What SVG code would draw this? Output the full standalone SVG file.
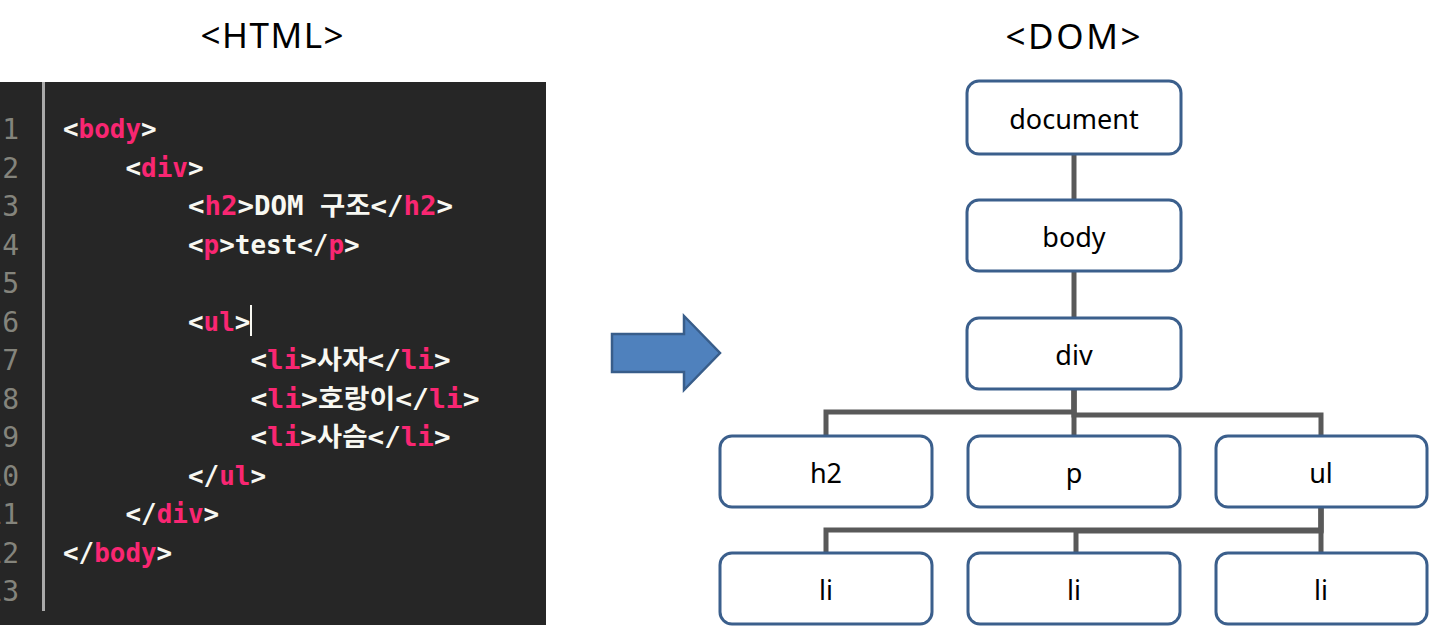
<svg xmlns="http://www.w3.org/2000/svg" width="1430" height="627" viewBox="0 0 1430 627">
<style>
.title{font-family:"Noto Sans","Noto Sans CJK KR",sans-serif;font-size:35px;fill:#000;text-anchor:middle}
.code{font-family:"DejaVu Sans Mono","Noto Sans CJK KR",monospace;font-size:26px;font-weight:bold;fill:#f8f8f2}
.tag{fill:#f92672}
.ln{font-family:"DejaVu Sans Mono",monospace;font-size:28px;fill:#84847c;text-anchor:end}
.box{fill:#fff;stroke:#3b5f8c;stroke-width:3}
.lbl{font-family:"Noto Sans","Noto Sans CJK KR",sans-serif;font-size:27px;fill:#000;text-anchor:middle}
.conn{fill:none;stroke:#595959;stroke-width:5;stroke-linejoin:miter}
</style>
<rect width="1430" height="627" fill="#fff"/>
<text class="title" x="272" y="48" textLength="143">&lt;HTML&gt;</text>
<text class="title" x="1073" y="49" textLength="135">&lt;DOM&gt;</text>

<g id="code-panel">
<rect x="0" y="82" width="546" height="543" fill="#262626"/>
<rect x="42" y="82" width="3" height="529" fill="#a9a9a9"/>
<g id="line-numbers">
<text class="ln" x="19" y="139">1</text>
<text class="ln" x="19" y="177.5">2</text>
<text class="ln" x="19" y="216">3</text>
<text class="ln" x="19" y="254.5">4</text>
<text class="ln" x="19" y="293">5</text>
<text class="ln" x="19" y="331.5">6</text>
<text class="ln" x="19" y="370">7</text>
<text class="ln" x="19" y="408.5">8</text>
<text class="ln" x="19" y="447">9</text>
<text class="ln" x="19" y="485.5">10</text>
<text class="ln" x="19" y="524">11</text>
<text class="ln" x="19" y="562.5">12</text>
<text class="ln" x="19" y="601">13</text>
</g>
<text class="code" x="63" y="138" textLength="93.6" lengthAdjust="spacingAndGlyphs">&lt;<tspan class="tag">body</tspan>&gt;</text>
<text class="code" x="125.5" y="176.5" textLength="78" lengthAdjust="spacingAndGlyphs">&lt;<tspan class="tag">div</tspan>&gt;</text>
<text class="code" x="188" y="215" textLength="265" lengthAdjust="spacingAndGlyphs">&lt;<tspan class="tag">h2</tspan>&gt;DOM 구조&lt;/<tspan class="tag">h2</tspan>&gt;</text>
<text class="code" x="188" y="253.5" textLength="171.6" lengthAdjust="spacingAndGlyphs">&lt;<tspan class="tag">p</tspan>&gt;test&lt;/<tspan class="tag">p</tspan>&gt;</text>
<text class="code" x="188" y="330.5" textLength="62.4" lengthAdjust="spacingAndGlyphs">&lt;<tspan class="tag">ul</tspan>&gt;</text>
<line x1="251" y1="305" x2="251" y2="336" stroke="#f8f8f2" stroke-width="2"/>
<text class="code" x="250.5" y="369" textLength="200" lengthAdjust="spacingAndGlyphs">&lt;<tspan class="tag">li</tspan>&gt;사자&lt;/<tspan class="tag">li</tspan>&gt;</text>
<text class="code" x="250.5" y="407.5" textLength="229" lengthAdjust="spacingAndGlyphs">&lt;<tspan class="tag">li</tspan>&gt;호랑이&lt;/<tspan class="tag">li</tspan>&gt;</text>
<text class="code" x="250.5" y="446" textLength="200" lengthAdjust="spacingAndGlyphs">&lt;<tspan class="tag">li</tspan>&gt;사슴&lt;/<tspan class="tag">li</tspan>&gt;</text>
<text class="code" x="188" y="484.5" textLength="78" lengthAdjust="spacingAndGlyphs">&lt;/<tspan class="tag">ul</tspan>&gt;</text>
<text class="code" x="125.5" y="523" textLength="93.6" lengthAdjust="spacingAndGlyphs">&lt;/<tspan class="tag">div</tspan>&gt;</text>
<text class="code" x="63" y="561.5" textLength="109.2" lengthAdjust="spacingAndGlyphs">&lt;/<tspan class="tag">body</tspan>&gt;</text>
</g>

<g id="arrow">
<polygon points="612,334 684,334 684,316 720,353 684,390 684,372 612,372" fill="#4f81bd" stroke="#385d8a" stroke-width="2.5" stroke-linejoin="miter"/>
</g>

<g id="connectors">
<line class="conn" x1="1074" y1="154" x2="1074" y2="200"/>
<line class="conn" x1="1074" y1="271" x2="1074" y2="318"/>
<polyline class="conn" points="1074,389 1074,412 826,412 826,436"/>
<polyline class="conn" points="1074,389 1074,415 1321,415 1321,436"/>
<line class="conn" x1="1074" y1="389" x2="1074" y2="436"/>
<polyline class="conn" points="1321,507 1321,530 826,530 826,553"/>
<polyline class="conn" points="1321,507 1321,531 1076,531 1076,553"/>
<line class="conn" x1="1321" y1="507" x2="1321" y2="553"/>
</g>

<g id="node-document"><rect class="box" x="967" y="81" width="214" height="73" rx="12"/><text class="lbl" x="1074" y="129">document</text></g>
<g id="node-body"><rect class="box" x="967" y="200" width="214" height="71" rx="12"/><text class="lbl" x="1074" y="247">body</text></g>
<g id="node-div"><rect class="box" x="967" y="318" width="214" height="71" rx="12"/><text class="lbl" x="1074" y="365">div</text></g>
<g id="node-h2"><rect class="box" x="720" y="436" width="212" height="71" rx="12"/><text class="lbl" x="826" y="483">h2</text></g>
<g id="node-p"><rect class="box" x="968" y="436" width="212" height="71" rx="12"/><text class="lbl" x="1074" y="483">p</text></g>
<g id="node-ul"><rect class="box" x="1216" y="436" width="211" height="71" rx="12"/><text class="lbl" x="1321" y="483">ul</text></g>
<g id="node-li1"><rect class="box" x="720" y="553" width="212" height="71" rx="12"/><text class="lbl" x="826" y="600">li</text></g>
<g id="node-li2"><rect class="box" x="968" y="553" width="212" height="71" rx="12"/><text class="lbl" x="1074" y="600">li</text></g>
<g id="node-li3"><rect class="box" x="1216" y="553" width="211" height="71" rx="12"/><text class="lbl" x="1321" y="600">li</text></g>
</svg>
